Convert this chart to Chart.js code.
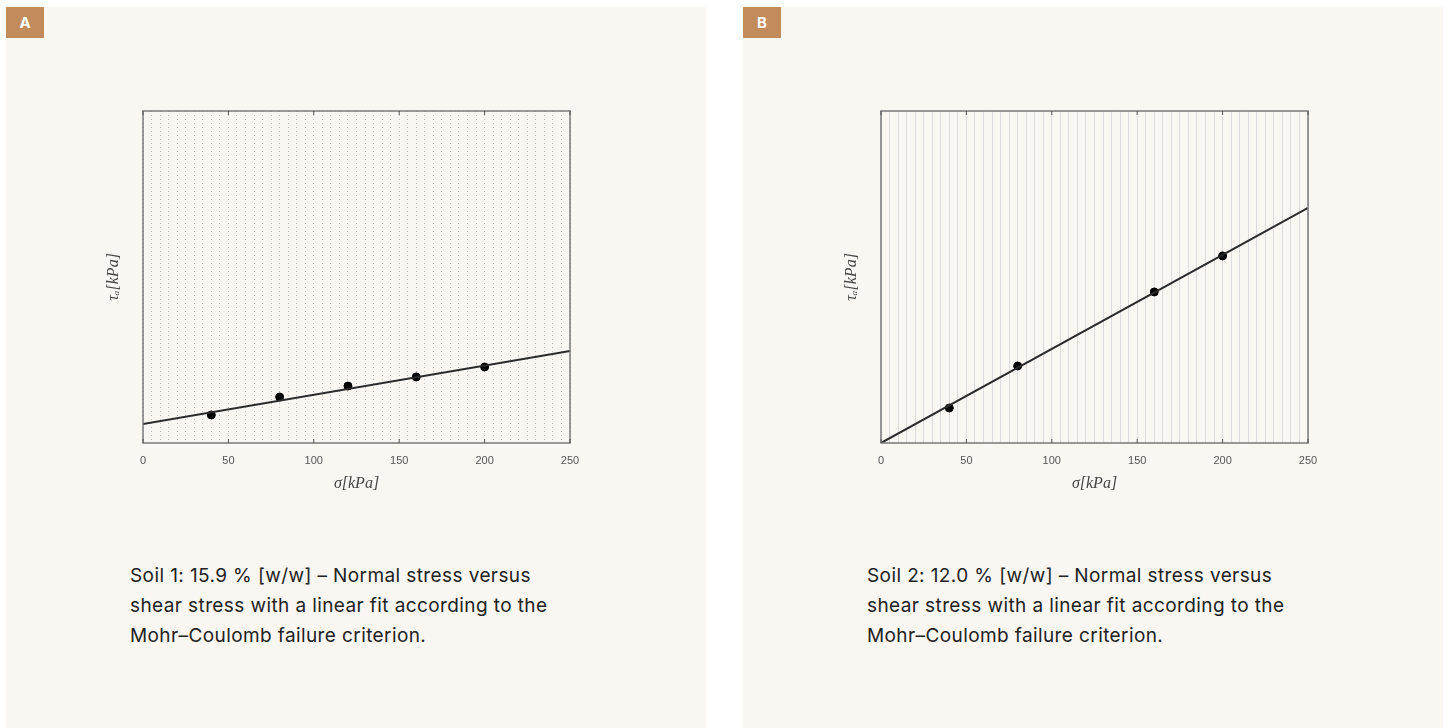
<!DOCTYPE html>
<html>
<head>
<meta charset="utf-8">
<script src="https://cdn.jsdelivr.net/npm/chart.js@4"></script>
<style>
  body { margin: 0; background: #ffffff; width: 1451px; height: 728px; overflow: hidden; position: relative; }
  .panel { position: absolute; top: 7px; width: 700px; height: 721px; background: #faf7f2; }
  .tag { position: absolute; left: 0; top: 0; width: 38px; height: 31px; background: #c28b5c; color: #fff;
         font: bold 15px "Inter", "DejaVu Sans", sans-serif; text-align: center; line-height: 31px; }
  .plot { position: absolute; left: 94px; top: 93px; width: 500px; height: 400px; }
  .caption { position: absolute; left: 124px; top: 554px; width: 520px; font: 19px "Inter", "Roboto", sans-serif;
             line-height: 30px; color: #222; letter-spacing: 0.4px; white-space: nowrap; }
</style>
</head>
<body>
<div class="panel" style="left:6px">
  <div class="tag">A</div>
  <div class="plot"><canvas id="chart-a"></canvas></div>
  <div class="caption">Soil 1: 15.9 % [w/w] – Normal stress versus<br>shear stress with a linear fit according to the<br>Mohr–Coulomb failure criterion.</div>
</div>
<div class="panel" style="left:743px">
  <div class="tag">B</div>
  <div class="plot" style="left:95px"><canvas id="chart-b"></canvas></div>
  <div class="caption">Soil 2: 12.0 % [w/w] – Normal stress versus<br>shear stress with a linear fit according to the<br>Mohr–Coulomb failure criterion.</div>
</div>
<script>
const sigmaA = [40, 80, 120, 160, 200];
const tauA = [16.9, 27.7, 34.3, 39.8, 45.8];
const fitSigmaA = [0, 250];
const fitTauA = [11.4, 55.4];

const sigmaB = [40, 80, 160, 200];
const tauB = [21.1, 46.4, 91.0, 112.7];
const fitSigmaB = [0, 250];
const fitTauB = [0, 141.6];

const xTicks = [0, 50, 100, 150, 200, 250];

// MATLAB style frame: full box + inward ticks
const boxFrame = {
    id: 'boxFrame',
    afterDatasetsDraw(chart) {
        const {ctx, chartArea: {left, top, right, bottom}, scales: {x}} = chart;
        ctx.save();
        ctx.strokeStyle = "#7a7a7a";
        ctx.lineWidth = 1.5;
        ctx.strokeRect(left, top, right - left, bottom - top);
        ctx.lineWidth = 1;
        ctx.strokeStyle = "#555";
        xTicks.forEach(v => {
            const px = x.getPixelForValue(v);
            ctx.beginPath();
            ctx.moveTo(px, bottom); ctx.lineTo(px, bottom - 4);
            ctx.moveTo(px, top); ctx.lineTo(px, top + 4);
            ctx.stroke();
        });
        ctx.restore();
    }
};

function makeChart(id, sig, tau, fitX, fitY, dotted) {
    new Chart(document.getElementById(id), {
        type: 'scatter',
        data: {
            datasets: [{
                data: fitX.map((v, i) => ({x: v, y: fitY[i]})),
                showLine: true,
                borderColor: "#2b2b2b",
                borderWidth: 2,
                pointRadius: 0
            }, {
                data: sig.map((v, i) => ({x: v, y: tau[i]})),
                backgroundColor: "#000",
                borderColor: "#000",
                pointRadius: 4
            }]
        },
        options: {
            responsive: false,
            animation: false,
            layout: { padding: { top: 11, right: 30, left: 0, bottom: 0 } },
            plugins: { legend: { display: false }, tooltip: { enabled: false } },
            scales: {
                x: {
                    type: 'linear', min: 0, max: 250,
                    afterBuildTicks: s => { s.ticks = []; for (let v = 0; v <= 250; v += 5) s.ticks.push({value: v}); },
                    afterFit: s => { s.height = 57; },
                    ticks: {
                        autoSkip: false,
                        maxRotation: 0,
                        minRotation: 0,
                        padding: 11,
                        color: "#555",
                        font: { family: "Liberation Sans", size: 11 },
                        callback: v => (v % 50 === 0 ? v : '')
                    },
                    grid: {
                        color: dotted ? "#bdbdbd" : "#dcdcdc",
                        lineWidth: 1,
                        drawTicks: false
                    },
                    border: { display: false, dash: dotted ? [1, 3] : [] },
                    title: {
                        display: true,
                        text: "σ[kPa]",
                        color: "#444",
                        padding: { top: 0, bottom: 7 },
                        font: { family: "Liberation Serif", style: 'italic', size: 16 }
                    }
                },
                y: {
                    min: 0, max: 200,
                    afterFit: s => { s.width = 43; },
                    ticks: { display: false },
                    grid: { display: false },
                    border: { display: false },
                    title: {
                        display: true,
                        text: "τₐ[kPa]",
                        color: "#444",
                        padding: { bottom: 8 },
                        font: { family: "Liberation Serif", style: 'italic', size: 16 }
                    }
                }
            }
        },
        plugins: [boxFrame]
    });
}

document.getElementById("chart-a").width = 500;
document.getElementById("chart-a").height = 400;
document.getElementById("chart-b").width = 500;
document.getElementById("chart-b").height = 400;

makeChart("chart-a", sigmaA, tauA, fitSigmaA, fitTauA, true);
makeChart("chart-b", sigmaB, tauB, fitSigmaB, fitTauB, false);
</script>
</body>
</html>
